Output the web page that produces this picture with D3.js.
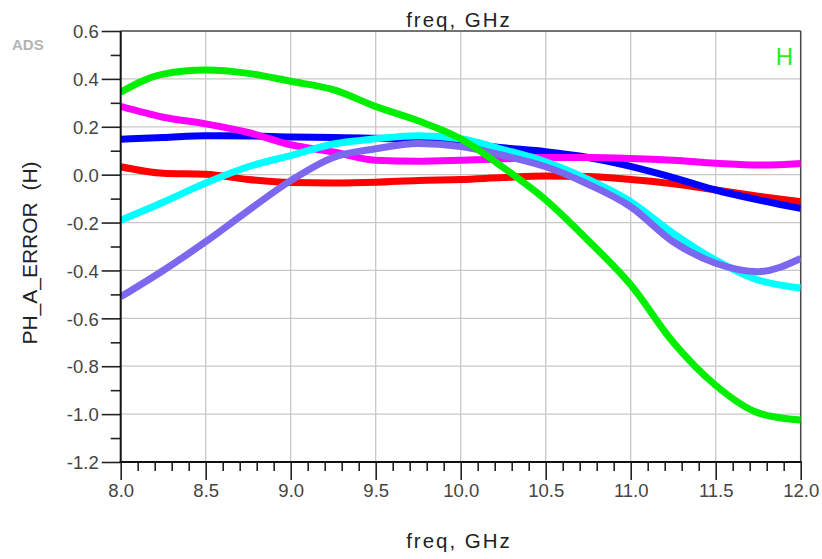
<!DOCTYPE html>
<html>
<head>
<meta charset="utf-8">
<script src="https://cdn.jsdelivr.net/npm/d3@7"></script>
<style>
  html, body { margin: 0; padding: 0; background: #fff; }
  svg { display: block; }
  text { font-family: "Liberation Sans", Arial, sans-serif; }
</style>
</head>
<body>
<svg id="chart" width="822" height="559"></svg>
<script>
// ---- data ----
const freq = [8.0, 8.25, 8.5, 8.75, 9.0, 9.25, 9.5, 9.75, 10.0, 10.25, 10.5, 10.75, 11.0, 11.25, 11.5, 11.75, 12.0];
const redVals     = [0.033, 0.006, 0.002, -0.020, -0.033, -0.035, -0.032, -0.024, -0.020, -0.012, -0.006, -0.008, -0.020, -0.038, -0.064, -0.090, -0.113];
const blueVals    = [0.148, 0.155, 0.163, 0.162, 0.157, 0.155, 0.152, 0.143, 0.130, 0.112, 0.096, 0.072, 0.035, -0.012, -0.064, -0.105, -0.141];
const magentaVals = [0.285, 0.240, 0.212, 0.176, 0.125, 0.095, 0.060, 0.056, 0.060, 0.066, 0.072, 0.072, 0.068, 0.060, 0.048, 0.040, 0.047];
const cyanVals    = [-0.190, -0.115, -0.035, 0.033, 0.080, 0.128, 0.150, 0.163, 0.150, 0.105, 0.054, -0.020, -0.113, -0.245, -0.357, -0.440, -0.473];
const purpleVals  = [-0.510, -0.400, -0.280, -0.150, -0.025, 0.072, 0.108, 0.130, 0.118, 0.080, 0.033, -0.040, -0.134, -0.280, -0.370, -0.405, -0.350];
const greenVals   = [0.345, 0.420, 0.437, 0.423, 0.390, 0.355, 0.285, 0.225, 0.150, 0.030, -0.105, -0.275, -0.460, -0.700, -0.880, -0.995, -1.025];

const seriesNames  = ["red", "blue", "magenta", "cyan", "purple", "green"];
const seriesValues = [redVals, blueVals, magentaVals, cyanVals, purpleVals, greenVals];
const seriesColors = ["#ff0000", "#0000ff", "#ff00ff", "#00ffff", "#7b68ee", "#00ee00"];

const xMajorTicks = [8.0, 8.5, 9.0, 9.5, 10.0, 10.5, 11.0, 11.5, 12.0];
const yMajorTicks = [0.6, 0.4, 0.2, 0.0, -0.2, -0.4, -0.6, -0.8, -1.0, -1.2];
const xTitle = "freq, GHz";
const yTitle = "PH_A_ERROR\u00a0\u00a0(H)";

// ---- layout ----
const L = 120.7, R = 800.7, T = 31, B = 462;
const svg = d3.select("#chart");
const x = d3.scaleLinear().domain([8, 12]).range([L, R]);
const y = d3.scaleLinear().domain([-1.2, 0.6]).range([B, T]);

const xMinor = d3.range(80, 121).map(d => d / 10).filter(v => Math.abs(v * 2 - Math.round(v * 2)) > 1e-6);
const yMinor = d3.range(-12, 7).map(d => d / 10).filter(v => Math.abs(v * 5 - Math.round(v * 5)) > 1e-6);

// grid
const grid = svg.append("g").attr("stroke", "#c8c8c8").attr("stroke-width", 1.3);
grid.selectAll("line.gx").data(xMajorTicks.slice(1, -1)).join("line")
  .attr("x1", d => x(d)).attr("x2", d => x(d)).attr("y1", T).attr("y2", B);
grid.selectAll("line.gy").data(yMajorTicks.slice(1, -1)).join("line")
  .attr("x1", L).attr("x2", R).attr("y1", d => y(d)).attr("y2", d => y(d));

// frame (top and right)
svg.append("line").attr("x1", L).attr("x2", R).attr("y1", T).attr("y2", T).attr("stroke", "#444").attr("stroke-width", 1.5);
svg.append("line").attr("x1", R).attr("x2", R).attr("y1", T).attr("y2", B).attr("stroke", "#444").attr("stroke-width", 1.5);

// clip
svg.append("clipPath").attr("id", "clip").append("rect")
  .attr("x", L).attr("y", T).attr("width", R - L).attr("height", B - T);

// lines
const line = d3.line().x((d, i) => x(freq[i])).y(d => y(d)).curve(d3.curveMonotoneX);
svg.append("g").attr("clip-path", "url(#clip)")
  .selectAll("path").data(seriesValues).join("path")
  .attr("d", d => line(d))
  .attr("fill", "none")
  .attr("stroke", (d, i) => seriesColors[i])
  .attr("stroke-width", 7)
  .attr("stroke-linejoin", "round");

// axes
const fmt1 = d3.format(".1f");
const fmt = v => fmt1(v).replace("\u2212", "-");
const xAxisMajor = d3.axisBottom(x).tickValues(xMajorTicks).tickSize(18).tickPadding(4).tickFormat(fmt);
const gx = svg.append("g").attr("transform", `translate(0,${B})`).call(xAxisMajor);
svg.append("g").attr("transform", `translate(0,${B})`)
  .call(d3.axisBottom(x).tickValues(xMinor).tickSize(9).tickFormat(""));
const yAxisMajor = d3.axisLeft(y).tickValues(yMajorTicks).tickSize(19).tickPadding(3).tickFormat(fmt);
const gy = svg.append("g").attr("transform", `translate(${L},0)`).call(yAxisMajor);
svg.append("g").attr("transform", `translate(${L},0)`)
  .call(d3.axisLeft(y).tickValues(yMinor).tickSize(10).tickFormat(""));

svg.selectAll(".domain").remove();
svg.selectAll(".tick line").attr("stroke", "#222").attr("stroke-width", 1.6);
gx.selectAll(".tick text").attr("font-size", 18.5).attr("fill", "#444")
  .attr("font-family", "'Liberation Sans', Arial, sans-serif").attr("dy", "0.71em");
gy.selectAll(".tick text").attr("font-size", 18.5).attr("fill", "#444")
  .attr("font-family", "'Liberation Sans', Arial, sans-serif").attr("dy", "0.36em");

// axis lines
svg.append("line").attr("x1", L).attr("x2", L).attr("y1", T).attr("y2", B + 1).attr("stroke", "#111").attr("stroke-width", 2);
svg.append("line").attr("x1", L - 1).attr("x2", R + 1).attr("y1", B).attr("y2", B).attr("stroke", "#111").attr("stroke-width", 2);

// titles
svg.append("text").attr("x", 459).attr("y", 26.5).attr("text-anchor", "middle")
  .attr("font-size", 20.5).attr("letter-spacing", "2px").attr("fill", "#222").text(xTitle);
svg.append("text").attr("x", 459).attr("y", 548).attr("text-anchor", "middle")
  .attr("font-size", 20.5).attr("letter-spacing", "2px").attr("fill", "#222").text(xTitle);
svg.append("text").attr("transform", "translate(36.5,253) rotate(-90)").attr("text-anchor", "middle")
  .attr("font-size", 21).attr("fill", "#222").text(yTitle);

// ADS logo
svg.append("text").attr("x", 12).attr("y", 50).attr("font-size", 15).attr("font-weight", "bold")
  .attr("fill", "#b4b4b4").text("ADS");

// H marker
svg.append("text").attr("x", 793).attr("y", 65).attr("text-anchor", "end")
  .attr("font-size", 24).attr("fill", "#22ee22").text("H");
</script>
</body>
</html>
